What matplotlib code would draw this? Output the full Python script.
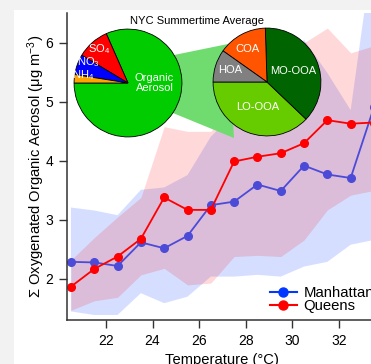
import matplotlib
matplotlib.use("Agg")
import matplotlib.pyplot as plt
from matplotlib.patches import Rectangle, Polygon
from matplotlib.lines import Line2D

plt.rcParams['font.family'] = ['Liberation Sans', 'DejaVu Sans']
plt.rcParams['mathtext.fontset'] = 'custom'
plt.rcParams['mathtext.rm'] = 'Liberation Sans'
plt.rcParams['mathtext.it'] = 'Liberation Sans:italic'
plt.rcParams['mathtext.bf'] = 'Liberation Sans:bold'

# ---------------- data ----------------
temps = [20.5, 21.5, 22.5, 23.5, 24.5, 25.5, 26.5, 27.5, 28.5, 29.5, 30.5, 31.5, 32.5, 33.5]

man_mean = [2.29, 2.28, 2.22, 2.62, 2.52, 2.73, 3.25, 3.31, 3.60, 3.49, 3.92, 3.77, 3.71, 4.91]
man_low = [1.45, 1.39, 1.39, 1.76, 1.59, 1.70, 2.04, 2.04, 2.07, 2.04, 2.21, 2.29, 2.58, 2.66]
man_high = [3.21, 3.16, 3.08, 3.51, 3.55, 3.76, 4.41, 4.80, 5.20, 5.60, 6.05, 5.49, 4.86, 7.70]

qns_mean = [1.87, 2.17, 2.38, 2.68, 3.38, 3.17, 3.17, 3.99, 4.07, 4.13, 4.30, 4.69, 4.63, 4.65]
qns_low = [1.47, 1.63, 1.69, 2.07, 2.18, 1.90, 1.93, 2.38, 2.40, 2.38, 2.66, 3.17, 3.42, 3.50]
qns_high = [2.32, 2.70, 3.05, 3.38, 4.58, 4.50, 4.50, 5.00, 5.50, 5.80, 6.00, 6.25, 5.83, 5.95]

x_ticks = [22, 24, 26, 28, 30, 32]
y_ticks = [2, 3, 4, 5, 6]

series_names = ["Manhattan", "Queens"]

pie1_labels = ["Organic\nAerosol", "SO$_4$", "NO$_3$", "NH$_4$"]
pie1_fracs = [0.816, 0.098, 0.061, 0.025]
pie1_colors = ['#00cc00', '#ff0000', '#0000ff', '#ffa500']

pie2_labels = ["LO-OOA", "MO-OOA", "COA", "HOA"]
pie2_fracs = [0.379, 0.376, 0.147, 0.098]
pie2_colors = ['#66cc00', '#006400', '#ff5500', '#808080']

# ---------------- figure ----------------
W, H = 371, 364
fig = plt.figure(figsize=(W / 100, H / 100), dpi=100, facecolor='#f2f2f2')
fig.add_artist(Rectangle((14 / W, 0), 1, 1 - 10 / H, facecolor='white',
                         edgecolor='none', zorder=-10, transform=fig.transFigure))


def fx(px):
    return px / W


def fy(py):
    return 1 - py / H


ax_l, ax_r, ax_t, ax_b = 67, 377, 13, 320
ax = fig.add_axes([fx(ax_l), fy(ax_b), (ax_r - ax_l) / W, (ax_b - ax_t) / H])
ax.set_facecolor('none')

ax.fill_between(temps, man_low, man_high, color='#1a4dff', alpha=0.18, lw=0)
ax.fill_between(temps, qns_low, qns_high, color='#ff0000', alpha=0.15, lw=0)
ax.plot(temps, man_mean, '-o', color='#4b4bd8', lw=1.3, ms=5.5)
ax.plot(temps, qns_mean, '-o', color='#ff0000', lw=1.3, ms=5.5)

ax.set_xlim(20.33, 33.63)
ax.set_ylim(1.305, 6.505)
ax.set_xticks(x_ticks)
ax.set_yticks(y_ticks)
for s in ['top', 'right']:
    ax.spines[s].set_visible(False)
for s in ['left', 'bottom']:
    ax.spines[s].set_color('#333333')
    ax.spines[s].set_linewidth(1.1)
ax.tick_params(direction='out', length=6, width=1, color='#333333',
               labelsize=10, pad=4)
ax.set_xlabel("Temperature (°C)", fontsize=10.6, labelpad=4)
ax.set_ylabel("Σ Oxygenated Organic Aerosol (μg m$^{-3}$)", fontsize=10.6, labelpad=-1)

handles = [Line2D([0], [0], color='#0038ff', marker='o', ms=6.5, lw=1.5),
           Line2D([0], [0], color='#ff0000', marker='o', ms=6.5, lw=1.5)]
leg = ax.legend(handles, series_names, loc='upper left',
                bbox_to_anchor=(fx(270), fy(286)), bbox_transform=fig.transFigure,
                frameon=False, fontsize=10.7, borderpad=0, borderaxespad=0,
                handlelength=1.8, handletextpad=0.45, labelspacing=-0.06)

# connector
conn = Polygon([(fx(174), fy(55)), (fx(228), fy(44)), (fx(234), fy(138)), (fx(168), fy(111))],
               closed=True, facecolor='#70dc70', edgecolor='none', zorder=1,
               transform=fig.transFigure)
fig.add_artist(conn)


def make_pie(cx, cy, r, fracs, colors, start):
    pa = fig.add_axes([fx(cx - r), fy(cy + r), 2 * r / W, 2 * r / H])
    pa.set_zorder(2)
    pa.pie(fracs, colors=colors, startangle=start, counterclock=True, radius=1,
           wedgeprops=dict(edgecolor='black', linewidth=0.6))
    pa.set_xlim(-1.02, 1.02)
    pa.set_ylim(-1.02, 1.02)
    pa.axis('off')
    return pa


p1c = (128, 83, 55)
p2c = (267, 82, 55)
pa1 = make_pie(*p1c, pie1_fracs, pie1_colors, 180)
pa2 = make_pie(*p2c, pie2_fracs, pie2_colors, 180)


def ptext(pa, c, px, py, s, size=8):
    cx, cy, r = c
    pa.text((px - cx) / r, -(py - cy) / r, s, color='white', fontsize=size,
            ha='center', va='center', linespacing=1.0)


ptext(pa1, p1c, 155, 83, pie1_labels[0])
ptext(pa1, p1c, 99, 48, pie1_labels[1])
ptext(pa1, p1c, 88, 62, pie1_labels[2])
ptext(pa1, p1c, 82, 75, pie1_labels[3])

ptext(pa2, p2c, 257, 108, pie2_labels[0])
ptext(pa2, p2c, 294, 71, pie2_labels[1])
ptext(pa2, p2c, 247, 48, pie2_labels[2])
ptext(pa2, p2c, 229, 70, pie2_labels[3])

fig.text(fx(197.5), fy(21), "NYC Summertime Average", fontsize=8,
         ha='center', va='center', zorder=3)

fig.savefig("out.png", dpi=100)
